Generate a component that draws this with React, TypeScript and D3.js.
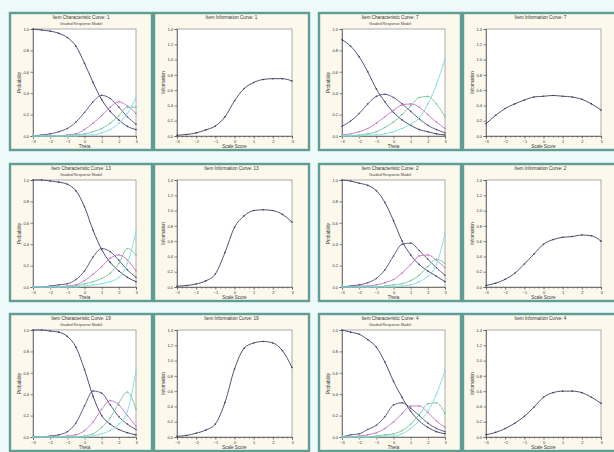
import React, { useEffect, useRef } from 'react'
import * as d3 from 'd3'

// theta grid shared by every panel
const theta = [-3, -2.5, -2, -1.5, -1, -0.5, 0, 0.5, 1, 1.5, 2, 2.5, 3]
const thetaTicks = [-3, -2, -1, 0, 1, 2, 3]
const probTicks = [0, 0.2, 0.4, 0.6, 0.8, 1]
const infoTicks = [0, 0.2, 0.4, 0.6, 0.8, 1, 1.2, 1.4]

const itemNames = ['1', '7', '13', '2', '19', '4']

// category response curves, one list per category
const item1Probs = [
  [1.0, 0.99, 0.98, 0.96, 0.92, 0.84, 0.68, 0.5, 0.34, 0.23, 0.15, 0.09, 0.06],
  [0.0, 0.01, 0.02, 0.04, 0.07, 0.13, 0.22, 0.32, 0.38, 0.35, 0.27, 0.18, 0.11],
  [0.0, 0.0, 0.0, 0.0, 0.01, 0.02, 0.06, 0.12, 0.19, 0.27, 0.32, 0.28, 0.21],
  [0.0, 0.0, 0.0, 0.0, 0.0, 0.01, 0.02, 0.04, 0.07, 0.12, 0.19, 0.27, 0.27],
  [0.0, 0.0, 0.0, 0.0, 0.0, 0.0, 0.01, 0.01, 0.03, 0.06, 0.12, 0.21, 0.36]
]
const item1Info = [0.01, 0.02, 0.04, 0.08, 0.13, 0.25, 0.46, 0.62, 0.7, 0.74, 0.75, 0.75, 0.72]

const item2Probs = [
  [0.9, 0.84, 0.74, 0.6, 0.44, 0.32, 0.22, 0.15, 0.1, 0.06, 0.04, 0.02, 0.01],
  [0.09, 0.14, 0.21, 0.3, 0.37, 0.39, 0.36, 0.3, 0.23, 0.16, 0.1, 0.06, 0.03],
  [0.01, 0.02, 0.04, 0.07, 0.12, 0.18, 0.24, 0.29, 0.3, 0.27, 0.2, 0.13, 0.07],
  [0.0, 0.0, 0.01, 0.02, 0.04, 0.08, 0.13, 0.2, 0.28, 0.36, 0.37, 0.3, 0.18],
  [0.0, 0.0, 0.0, 0.01, 0.01, 0.02, 0.04, 0.07, 0.11, 0.17, 0.3, 0.48, 0.72]
]
const item2Info = [0.16, 0.27, 0.36, 0.42, 0.47, 0.51, 0.52, 0.53, 0.52, 0.51, 0.48, 0.42, 0.34]

const item3Probs = [
  [1.0, 1.0, 0.99, 0.98, 0.96, 0.9, 0.75, 0.53, 0.35, 0.23, 0.15, 0.09, 0.05],
  [0.0, 0.0, 0.01, 0.02, 0.03, 0.07, 0.15, 0.28, 0.36, 0.33, 0.25, 0.16, 0.09],
  [0.0, 0.0, 0.0, 0.0, 0.01, 0.02, 0.06, 0.12, 0.19, 0.27, 0.3, 0.25, 0.15],
  [0.0, 0.0, 0.0, 0.0, 0.0, 0.01, 0.03, 0.05, 0.08, 0.13, 0.22, 0.36, 0.3],
  [0.0, 0.0, 0.0, 0.0, 0.0, 0.0, 0.01, 0.02, 0.03, 0.05, 0.09, 0.22, 0.52]
]
const item3Info = [0.01, 0.02, 0.04, 0.08, 0.17, 0.45, 0.78, 0.93, 1.0, 1.01, 1.0, 0.95, 0.85]

const item4Probs = [
  [1.0, 0.99, 0.97, 0.95, 0.9, 0.79, 0.62, 0.43, 0.3, 0.21, 0.15, 0.1, 0.05],
  [0.0, 0.01, 0.02, 0.04, 0.08, 0.16, 0.29, 0.4, 0.41, 0.34, 0.26, 0.18, 0.11],
  [0.0, 0.0, 0.01, 0.01, 0.02, 0.04, 0.07, 0.13, 0.21, 0.29, 0.3, 0.25, 0.18],
  [0.0, 0.0, 0.0, 0.0, 0.0, 0.01, 0.02, 0.03, 0.06, 0.11, 0.19, 0.26, 0.22],
  [0.0, 0.0, 0.0, 0.0, 0.0, 0.0, 0.0, 0.01, 0.02, 0.05, 0.1, 0.21, 0.5]
]
const item4Info = [0.02, 0.05, 0.1, 0.18, 0.3, 0.43, 0.56, 0.62, 0.65, 0.66, 0.68, 0.67, 0.6]

const item5Probs = [
  [1.0, 1.0, 0.99, 0.98, 0.94, 0.84, 0.63, 0.38, 0.2, 0.12, 0.07, 0.04, 0.02],
  [0.0, 0.0, 0.01, 0.02, 0.05, 0.13, 0.29, 0.43, 0.41, 0.3, 0.19, 0.12, 0.07],
  [0.0, 0.0, 0.0, 0.0, 0.01, 0.02, 0.06, 0.14, 0.26, 0.34, 0.3, 0.2, 0.1],
  [0.0, 0.0, 0.0, 0.0, 0.0, 0.0, 0.01, 0.03, 0.09, 0.18, 0.32, 0.42, 0.26],
  [0.0, 0.0, 0.0, 0.0, 0.0, 0.0, 0.0, 0.01, 0.03, 0.06, 0.12, 0.24, 0.62]
]
const item5Info = [0.01, 0.02, 0.05, 0.09, 0.17, 0.45, 0.89, 1.16, 1.23, 1.25, 1.23, 1.13, 0.91]

const item6Probs = [
  [1.0, 0.98, 0.96, 0.91, 0.84, 0.7, 0.52, 0.37, 0.24, 0.15, 0.09, 0.05, 0.03],
  [0.0, 0.02, 0.03, 0.07, 0.11, 0.19, 0.3, 0.32, 0.27, 0.2, 0.13, 0.08, 0.05],
  [0.0, 0.0, 0.01, 0.02, 0.04, 0.08, 0.14, 0.22, 0.29, 0.29, 0.23, 0.15, 0.09],
  [0.0, 0.0, 0.0, 0.0, 0.01, 0.02, 0.03, 0.06, 0.12, 0.21, 0.31, 0.32, 0.22],
  [0.0, 0.0, 0.0, 0.0, 0.0, 0.01, 0.01, 0.03, 0.08, 0.15, 0.24, 0.4, 0.62]
]
const item6Info = [0.03, 0.06, 0.11, 0.18, 0.27, 0.39, 0.52, 0.58, 0.6, 0.6, 0.58, 0.52, 0.44]

const allProbs = [item1Probs, item2Probs, item3Probs, item4Probs, item5Probs, item6Probs]
const allInfo = [item1Info, item2Info, item3Info, item4Info, item5Info, item6Info]

const categoryColors = ['#3a3a6a', '#574a7c', '#c472c4', '#74c496', '#7adcdc']

const W = 614
const H = 452
const groupX = [10, 319]
const rowY = [13, 164, 314]
const leftW = 142
const rightW = 155
const panelH = 137
const font = 'Liberation Sans, Arial, sans-serif'

function drawFrame(g, w) {
  g.append('rect')
    .attr('width', w).attr('height', panelH)
    .attr('fill', '#fcf8ec')
    .attr('stroke', '#5f9d95')
    .attr('stroke-width', 2.4)
}

function drawAxes(g, x, y, yTicks, yFmt, xLabel, yLabel, top, bottom, left, right, minor) {
  g.append('rect')
    .attr('x', left).attr('y', top)
    .attr('width', right - left).attr('height', bottom - top)
    .attr('fill', '#ffffff').attr('stroke', '#8a8a8a').attr('stroke-width', 0.7)

  g.append('g')
    .attr('transform', 'translate(0,' + bottom + ')')
    .call(d3.axisBottom(x).tickValues(thetaTicks).tickSize(2.5).tickPadding(1.5).tickFormat(d3.format('d')))
  if (minor) {
    g.append('g')
      .attr('transform', 'translate(0,' + bottom + ')')
      .call(d3.axisBottom(x).tickValues(d3.range(-3, 3.01, 0.25)).tickSize(1.5).tickFormat(() => ''))
      .call(s => s.select('.domain').remove())
  }
  g.append('g')
    .attr('transform', 'translate(' + left + ',0)')
    .call(d3.axisLeft(y).tickValues(yTicks).tickSize(2.5).tickPadding(1.5).tickFormat(yFmt))

  g.selectAll('.tick text').attr('font-size', 4).attr('font-family', font).attr('fill', '#333')
  g.selectAll('.domain, .tick line').attr('stroke', '#555').attr('stroke-width', 0.7)

  g.append('text')
    .attr('x', (left + right) / 2).attr('y', bottom + 11.5)
    .attr('text-anchor', 'middle')
    .attr('font-size', 4.5).attr('font-family', font).attr('fill', '#333')
    .text(xLabel)
  g.append('text')
    .attr('transform', 'translate(' + (left - 12) + ',' + ((top + bottom) / 2) + ') rotate(-90)')
    .attr('text-anchor', 'middle')
    .attr('font-size', 4.5).attr('font-family', font).attr('fill', '#333')
    .text(yLabel)
}

function drawProbPanel(g, probs, item) {
  drawFrame(g, leftW)
  const left = 23, right = 126, top = 16, bottom = 123
  const x = d3.scaleLinear().domain([-3, 3]).range([left, right])
  const y = d3.scaleLinear().domain([0, 1]).range([bottom, top])

  g.append('text').attr('x', leftW / 2).attr('y', 6).attr('text-anchor', 'middle')
    .attr('font-size', 4.6).attr('font-family', font).attr('fill', '#333')
    .text('Item Characteristic Curve: ' + item)
  g.append('text').attr('x', leftW / 2).attr('y', 11.5).attr('text-anchor', 'middle')
    .attr('font-size', 3.8).attr('font-family', font).attr('fill', '#444')
    .text('Graded Response Model')

  drawAxes(g, x, y, probTicks, d3.format('.1f'), 'Theta', 'Probability', top, bottom, left, right, false)

  const line = d3.line()
    .x((d, i) => x(theta[i]))
    .y(d => y(d))
    .curve(d3.curveMonotoneX)

  probs.forEach((cat, c) => {
    g.append('path')
      .attr('d', line(cat))
      .attr('fill', 'none')
      .attr('stroke', categoryColors[c])
      .attr('stroke-width', 0.9)
    g.selectAll(null).data(cat).enter().append('circle')
      .attr('cx', (d, i) => x(theta[i]))
      .attr('cy', d => y(d))
      .attr('r', 0.8)
      .attr('fill', categoryColors[c])
  })
}

function drawInfoPanel(g, info, item) {
  drawFrame(g, rightW)
  const left = 23, right = 138, top = 16, bottom = 123
  const x = d3.scaleLinear().domain([-3, 3]).range([left, right])
  const y = d3.scaleLinear().domain([0, 1.4]).range([bottom, top])

  g.append('text').attr('x', rightW / 2).attr('y', 6).attr('text-anchor', 'middle')
    .attr('font-size', 4.6).attr('font-family', font).attr('fill', '#333')
    .text('Item Information Curve: ' + item)

  drawAxes(g, x, y, infoTicks, d3.format('.1f'), 'Scale Score', 'Information', top, bottom, left, right, true)

  const line = d3.line()
    .x((d, i) => x(theta[i]))
    .y(d => y(d))
    .curve(d3.curveMonotoneX)

  g.append('path')
    .attr('d', line(info))
    .attr('fill', 'none')
    .attr('stroke', '#3d3d5c')
    .attr('stroke-width', 0.9)
  g.selectAll(null).data(info).enter().append('circle')
    .attr('cx', (d, i) => x(theta[i]))
    .attr('cy', d => y(d))
    .attr('r', 0.8)
    .attr('fill', '#3d3d5c')
}

export default function App() {
  const ref = useRef(null)

  useEffect(() => {
    document.body.style.margin = '0'
    const svg = d3.select(ref.current)
    svg.selectAll('*').remove()

    svg.append('rect').attr('width', W).attr('height', H).attr('fill', '#eef9f9')

    allProbs.forEach((probs, i) => {
      const row = Math.floor(i / 2)
      const grp = i % 2
      const gl = svg.append('g')
        .attr('transform', 'translate(' + groupX[grp] + ',' + rowY[row] + ')')
      drawProbPanel(gl, probs, itemNames[i])
      const gr = svg.append('g')
        .attr('transform', 'translate(' + (groupX[grp] + leftW + 2) + ',' + rowY[row] + ')')
      drawInfoPanel(gr, allInfo[i], itemNames[i])
    })
  }, [])

  return <svg ref={ref} width={W} height={H} style={{ display: 'block' }} />
}
